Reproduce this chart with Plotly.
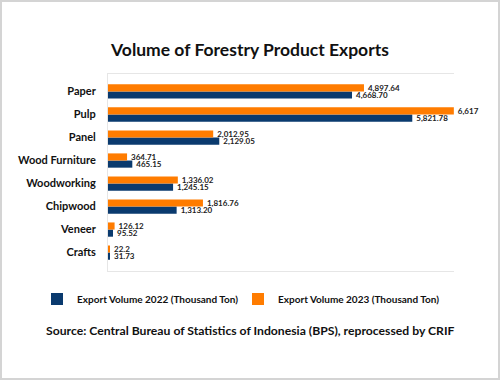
import plotly.graph_objects as go

categories = ["Paper", "Pulp", "Panel", "Wood Furniture", "Woodworking", "Chipwood", "Veneer", "Crafts"]
vol_2022 = [4668.70, 5821.78, 2129.05, 465.15, 1245.15, 1313.20, 95.52, 31.73]
vol_2023 = [4897.64, 6617, 2012.95, 364.71, 1336.02, 1816.76, 126.12, 22.2]
labels_2022 = ["4,668.70", "5,821.78", "2,129.05", "465.15", "1,245.15", "1,313.20", "95.52", "31.73"]
labels_2023 = ["4,897.64", "6,617", "2,012.95", "364.71", "1,336.02", "1,816.76", "126.12", "22.2"]

BLUE = "#0a3a6e"
ORANGE = "#ff7c00"
FONT = "Lato"

W, H = 500, 380
L, R, T, B = 108, 46, 74, 109
pw, ph = W - L - R, H - T - B

def px_x(p):
    return (p - L) / pw

def px_y(p):
    return (H - B - p) / ph

# bottom-to-top order so that within a group the 2023 bar sits above the 2022 bar
cats_rev = categories[::-1]

lab_font = dict(family=FONT, size=8, color="#222222", weight="bold")

fig = go.Figure()
fig.add_trace(go.Bar(
    y=cats_rev, x=vol_2022[::-1], orientation="h", name="Export Volume 2022 (Thousand Ton)",
    marker=dict(color=BLUE, line=dict(width=0)), text=labels_2022[::-1], textposition="outside",
    texttemplate="\u2009%{text}",
    textfont=lab_font, cliponaxis=False, constraintext="none", legend="legend",
))
fig.add_trace(go.Bar(
    y=cats_rev, x=vol_2023[::-1], orientation="h", name="Export Volume 2023 (Thousand Ton)",
    marker=dict(color=ORANGE, line=dict(width=0)), text=labels_2023[::-1], textposition="outside",
    texttemplate="\u2009%{text}",
    textfont=lab_font, cliponaxis=False, constraintext="none", legend="legend2",
))

leg_font = dict(family=FONT, size=10, color="#111111", weight="bold")

fig.update_layout(
    width=W, height=H,
    margin=dict(l=L, r=R, t=T, b=B, pad=0, autoexpand=False),
    paper_bgcolor="white", plot_bgcolor="white",
    barmode="group", bargap=0.38, bargroupgap=0,
    font=dict(family=FONT, color="#111111"),
    title=dict(text="<b>Volume of Forestry Product Exports</b>", x=0.5, xanchor="center",
               y=1 - 50 / H, yanchor="middle", font=dict(family=FONT, size=17.5, color="#111111")),
    xaxis=dict(range=[0, 6620], showticklabels=False, showgrid=False, zeroline=False,
               showline=True, linecolor="#e6e6e6", linewidth=1, mirror=True, ticks=""),
    yaxis=dict(categoryorder="array", categoryarray=cats_rev, range=[-0.8, 7.76],
               showgrid=False, zeroline=False, showline=True, linecolor="#e6e6e6", linewidth=1,
               ticks="", ticklabelstandoff=9,
               tickfont=dict(family=FONT, size=11, color="#111111", weight="bold")),
    legend=dict(orientation="h", x=px_x(37), xanchor="left", y=px_y(299), yanchor="middle",
                font=leg_font, bgcolor="rgba(0,0,0,0)"),
    legend2=dict(orientation="h", x=px_x(238), xanchor="left", y=px_y(299), yanchor="middle",
                 font=leg_font, bgcolor="rgba(0,0,0,0)"),
    showlegend=True,
    annotations=[dict(text="<b>Source: Central Bureau of Statistics of Indonesia (BPS), reprocessed by CRIF</b>",
                      xref="paper", yref="paper", x=px_x(250), y=px_y(330),
                      xanchor="center", yanchor="middle", showarrow=False,
                      font=dict(family=FONT, size=12.2, color="#111111"))],
    shapes=[dict(type="rect", xref="paper", yref="paper",
                 x0=px_x(1), x1=px_x(W - 1), y0=px_y(H - 1), y1=px_y(1),
                 line=dict(color="#d4d4d4", width=2), fillcolor="rgba(0,0,0,0)", layer="above")],
)

fig.write_html("out.html", config={"displayModeBar": False},
               post_script="document.body.style.margin='0';document.body.style.overflow='hidden';")
